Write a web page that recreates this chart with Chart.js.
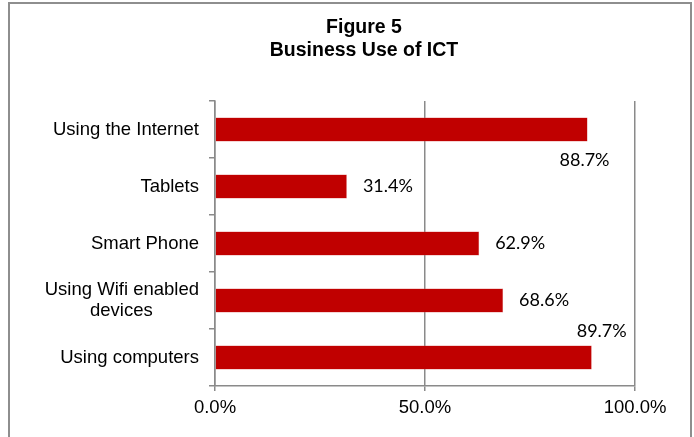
<!DOCTYPE html>
<html>
<head>
<meta charset="utf-8">
<script src="https://cdn.jsdelivr.net/npm/chart.js@4/dist/chart.umd.min.js"></script>
<style>
  html, body { margin: 0; padding: 0; background: #fff; }
  #frame { position: absolute; left: 8px; top: 2px; width: 684px; height: 440px; border: 2px solid #8e8e8e; box-sizing: border-box; }
  #wrap { position: absolute; left: 0; top: 0; width: 694px; height: 437px; }
</style>
</head>
<body>
<div id="frame"></div>
<div id="wrap"><canvas id="chart"></canvas></div>
<script>
'use strict';

// second line of the wifi label is padded so it sits centred under the first, as in the original
const categories = ['Using the Internet', 'Tablets', 'Smart Phone', ['Using Wifi enabled', 'devices' + '\u00a0'.repeat(9)], 'Using computers'];
const shares = [88.7, 31.4, 62.9, 68.6, 89.7];
const labelPlace = ['below', 'right', 'right', 'right', 'above'];
const xTicks = [0, 50, 100];
const titleLines = ['Figure 5', 'Business Use of ICT'];

const AXIS = '#8a8a8a';
const ARIAL = '"Liberation Sans", Arial, sans-serif';

// title sits a bit right of the frame centre, like the original
const titlePlugin = {
  id: 'figTitle',
  afterDraw(chart) {
    const ctx = chart.ctx;
    ctx.save();
    ctx.font = 'bold 19.5px ' + ARIAL;
    ctx.fillStyle = '#000';
    ctx.textAlign = 'center';
    ctx.textBaseline = 'alphabetic';
    titleLines.forEach((line, i) => ctx.fillText(line, 364, 33 + i * 23));
    ctx.restore();
  },
};

const valueLabels = {
  id: 'valueLabels',
  afterDatasetsDraw(chart) {
    const ctx = chart.ctx;
    const meta = chart.getDatasetMeta(0);
    ctx.save();
    ctx.font = '18px Lato, "Open Sans", sans-serif';
    ctx.fillStyle = '#000';
    ctx.textBaseline = 'middle';
    meta.data.forEach((bar, i) => {
      const txt = shares[i].toFixed(1) + '%';
      const place = labelPlace[i];
      const half = bar.height / 2;
      if (place === 'right') {
        ctx.textAlign = 'left';
        ctx.fillText(txt, bar.x + 16, bar.y);
      } else if (place === 'below') {
        ctx.textAlign = 'center';
        ctx.fillText(txt, bar.x - 3, bar.y + half + 19);
      } else {
        ctx.textAlign = 'center';
        ctx.fillText(txt, bar.x + 10, bar.y - half - 14);
      }
    });
    ctx.restore();
  },
};

new Chart(document.getElementById('chart'), {
  type: 'bar',
  data: {
    labels: categories,
    datasets: [{
      data: shares,
      backgroundColor: '#c00000',
      borderColor: '#d65a5a',
      borderWidth: 0.5,
      barPercentage: 0.42,
      categoryPercentage: 1,
    }],
  },
  options: {
    indexAxis: 'y',
    responsive: true,
    maintainAspectRatio: false,
    animation: false,
    layout: { padding: { top: 101, right: 59, bottom: 20, left: 0 } },
    plugins: { legend: { display: false }, tooltip: { enabled: false } },
    scales: {
      x: {
        min: 0,
        max: 100,
        afterBuildTicks: (s) => { s.ticks = xTicks.map((v) => ({ value: v })); },
        afterFit: (s) => { s.height = 31; },
        ticks: {
          color: '#000',
          padding: 6,
          font: { family: ARIAL, size: 18.5 },
          callback: (v) => Number(v).toFixed(1) + '%',
        },
        grid: { color: AXIS, lineWidth: 1.5, tickLength: 5 },
        border: { color: AXIS, width: 1.5 },
      },
      y: {
        afterFit: (s) => { s.width = 215; },
        ticks: {
          color: '#000',
          padding: 10,
          font: { family: ARIAL, size: 18.5, lineHeight: 1.15 },
        },
        grid: { drawOnChartArea: false, color: AXIS, lineWidth: 1.5, tickLength: 6 },
        border: { color: AXIS, width: 1.5 },
      },
    },
  },
  plugins: [titlePlugin, valueLabels],
});
</script>
</body>
</html>
